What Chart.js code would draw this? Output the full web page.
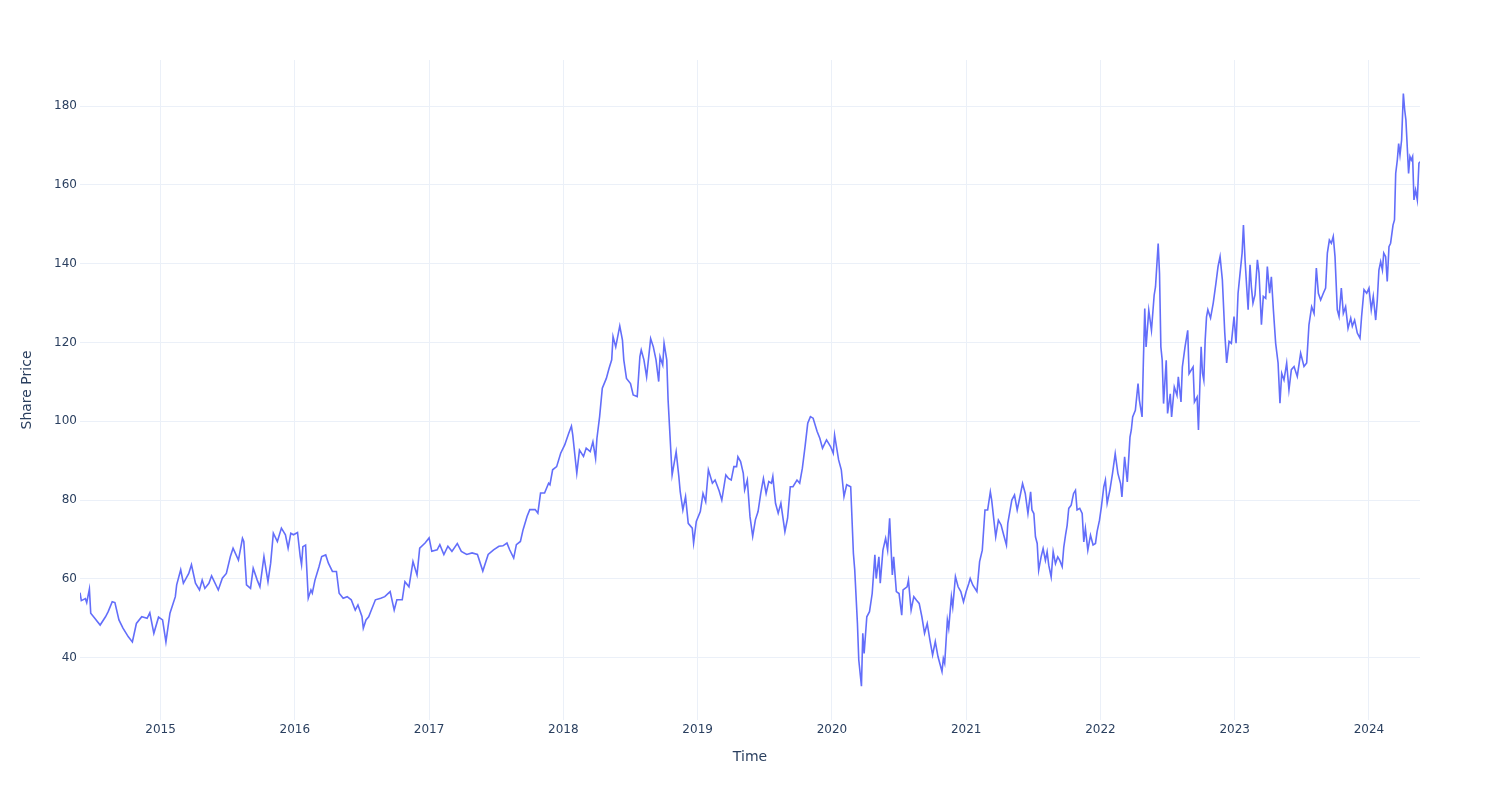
<!DOCTYPE html>
<html>
<head>
<meta charset="utf-8">
<script src="https://cdn.jsdelivr.net/npm/chart.js@4.4.1/dist/chart.umd.min.js"></script>
<style>
  html, body { margin: 0; padding: 0; background: #fff; }
  #wrap { width: 1500px; height: 800px; }
</style>
</head>
<body>
<div id="wrap"><canvas id="chart" width="1500" height="800"></canvas></div>
<script>
// Data (x as decimal year)
const years = [
  2014.40, 2014.41, 2014.44, 2014.45, 2014.47, 2014.48, 2014.51, 2014.55, 2014.59, 2014.61,
  2014.64, 2014.66, 2014.69, 2014.72, 2014.76, 2014.79, 2014.82, 2014.86, 2014.90, 2014.92,
  2014.95, 2014.985, 2015.015, 2015.04, 2015.07, 2015.11, 2015.12, 2015.15, 2015.17, 2015.21,
  2015.23, 2015.26, 2015.29, 2015.31, 2015.33, 2015.36, 2015.38, 2015.43, 2015.46, 2015.49,
  2015.52, 2015.54, 2015.58, 2015.61, 2015.62, 2015.64, 2015.67, 2015.69, 2015.72, 2015.74,
  2015.77, 2015.79, 2015.80, 2015.82, 2015.84, 2015.87, 2015.90, 2015.93, 2015.95, 2015.97,
  2015.99, 2016.02, 2016.04, 2016.05, 2016.06, 2016.08, 2016.10, 2016.12, 2016.13, 2016.15,
  2016.18, 2016.20, 2016.23, 2016.25, 2016.28, 2016.31, 2016.33, 2016.36, 2016.39, 2016.42,
  2016.45, 2016.47, 2016.50, 2016.51, 2016.53, 2016.55, 2016.57, 2016.60, 2016.64, 2016.67,
  2016.71, 2016.74, 2016.76, 2016.80, 2016.82, 2016.85, 2016.88, 2016.91, 2016.93, 2016.97,
  2017.00, 2017.02, 2017.06, 2017.08, 2017.11, 2017.14, 2017.17, 2017.21, 2017.24, 2017.28,
  2017.32, 2017.36, 2017.40, 2017.44, 2017.48, 2017.52, 2017.55, 2017.58, 2017.60, 2017.63,
  2017.65, 2017.68, 2017.70, 2017.73, 2017.75, 2017.79, 2017.81, 2017.83, 2017.86, 2017.89,
  2017.90, 2017.92, 2017.95, 2017.98, 2018.01, 2018.04, 2018.06, 2018.07, 2018.10, 2018.12,
  2018.15, 2018.17, 2018.20, 2018.22, 2018.24, 2018.25, 2018.27, 2018.29, 2018.32, 2018.34,
  2018.36, 2018.37, 2018.39, 2018.42, 2018.44, 2018.45, 2018.47, 2018.50, 2018.52, 2018.55,
  2018.57, 2018.58, 2018.60, 2018.62, 2018.65, 2018.67, 2018.69, 2018.71, 2018.72, 2018.74,
  2018.75, 2018.77, 2018.78, 2018.80, 2018.81, 2018.84, 2018.86, 2018.87, 2018.89, 2018.91,
  2018.93, 2018.96, 2018.97, 2018.99, 2019.02, 2019.04, 2019.06, 2019.08, 2019.11, 2019.13,
  2019.16, 2019.18, 2019.21, 2019.23, 2019.25, 2019.27, 2019.29, 2019.30, 2019.32, 2019.34,
  2019.35, 2019.37, 2019.39, 2019.41, 2019.43, 2019.45, 2019.47, 2019.49, 2019.51, 2019.53,
  2019.55, 2019.56, 2019.58, 2019.60, 2019.62, 2019.65, 2019.67, 2019.69, 2019.71, 2019.74,
  2019.76, 2019.78, 2019.80, 2019.82, 2019.84, 2019.86, 2019.89, 2019.91, 2019.93, 2019.96,
  2019.99, 2020.01, 2020.02, 2020.05, 2020.07, 2020.09, 2020.11, 2020.14, 2020.16, 2020.17,
  2020.19, 2020.20, 2020.22, 2020.23, 2020.24, 2020.26, 2020.28, 2020.30, 2020.32, 2020.33,
  2020.35, 2020.36, 2020.38, 2020.40, 2020.415, 2020.43, 2020.45, 2020.46, 2020.48, 2020.50,
  2020.52, 2020.53, 2020.56, 2020.57, 2020.59, 2020.61, 2020.63, 2020.65, 2020.67, 2020.69,
  2020.71, 2020.73, 2020.75, 2020.77, 2020.79, 2020.82, 2020.83, 2020.84, 2020.86, 2020.87,
  2020.89, 2020.90, 2020.92, 2020.94, 2020.96, 2020.98, 2021.00, 2021.02, 2021.03, 2021.05,
  2021.08, 2021.10, 2021.12, 2021.14, 2021.16, 2021.18, 2021.19, 2021.22, 2021.24, 2021.26,
  2021.28, 2021.30, 2021.31, 2021.34, 2021.36, 2021.38, 2021.40, 2021.42, 2021.44, 2021.46,
  2021.48, 2021.49, 2021.504, 2021.516, 2021.529, 2021.54, 2021.558, 2021.573, 2021.59, 2021.603,
  2021.615, 2021.633, 2021.648, 2021.665, 2021.682, 2021.697, 2021.715, 2021.727, 2021.74, 2021.752,
  2021.764, 2021.782, 2021.80, 2021.814, 2021.826, 2021.846, 2021.864, 2021.876, 2021.888, 2021.906,
  2021.926, 2021.945, 2021.963, 2021.975, 2021.993, 2022.007, 2022.025, 2022.037, 2022.05, 2022.07,
  2022.09, 2022.11, 2022.13, 2022.15, 2022.16, 2022.18, 2022.20, 2022.22, 2022.23, 2022.24,
  2022.26, 2022.28, 2022.29, 2022.31, 2022.32, 2022.33, 2022.34, 2022.36, 2022.38, 2022.40,
  2022.41, 2022.43, 2022.44, 2022.45, 2022.46, 2022.47, 2022.49, 2022.50, 2022.52, 2022.53,
  2022.55, 2022.57, 2022.58, 2022.60, 2022.61, 2022.63, 2022.65, 2022.66, 2022.69, 2022.70,
  2022.72, 2022.73, 2022.74, 2022.75, 2022.76, 2022.77, 2022.78, 2022.79, 2022.80, 2022.82,
  2022.84, 2022.86, 2022.876, 2022.891, 2022.908, 2022.926, 2022.94, 2022.958, 2022.975, 2022.995,
  2023.01, 2023.025, 2023.04, 2023.055, 2023.065, 2023.077, 2023.089, 2023.10, 2023.114, 2023.124,
  2023.136, 2023.151, 2023.169, 2023.181, 2023.199, 2023.213, 2023.231, 2023.243, 2023.26, 2023.273,
  2023.288, 2023.305, 2023.323, 2023.337, 2023.35, 2023.367, 2023.387, 2023.404, 2023.422, 2023.442,
  2023.466, 2023.491, 2023.516, 2023.536, 2023.553, 2023.573, 2023.591, 2023.608, 2023.623, 2023.64,
  2023.66, 2023.677, 2023.69, 2023.705, 2023.72, 2023.734, 2023.747, 2023.764, 2023.777, 2023.794,
  2023.809, 2023.826, 2023.844, 2023.864, 2023.876, 2023.893, 2023.913, 2023.933, 2023.945, 2023.963,
  2023.983, 2024.00, 2024.017, 2024.032, 2024.05, 2024.062, 2024.074, 2024.087, 2024.10, 2024.11,
  2024.124, 2024.136, 2024.149, 2024.161, 2024.179, 2024.19, 2024.199, 2024.211, 2024.221, 2024.231,
  2024.243, 2024.256, 2024.266, 2024.275, 2024.285, 2024.295, 2024.305, 2024.315, 2024.325, 2024.335,
  2024.347, 2024.36, 2024.372, 2024.38
];
const prices = [
  56.5, 54.5, 55, 54, 57.4, 51.3, 50, 48.3, 50.4, 51.7,
  54.2, 54, 49.6, 47.5, 45.3, 44, 48.7, 50.4, 50, 51.4,
  46.2, 50.3, 49.6, 44, 51.3, 55.5, 58.5, 62.3, 58.9, 61.4,
  63.6, 58.9, 57.2, 59.7, 57.6, 58.9, 60.8, 57.2, 60.2, 61.4,
  65.7, 67.8, 64.8, 70.3, 69.5, 58.5, 57.6, 62.7, 59.7, 58,
  65.7, 61.4, 59.3, 64, 71.6, 69.5, 72.9, 71.2, 67.8, 71.6,
  71.2, 71.8, 65.7, 63.6, 68.2, 68.6, 55.1, 57.2, 56.4, 59.7,
  63.1, 65.7, 66.1, 64, 61.9, 61.9, 56.4, 55.1, 55.5, 54.7,
  52.1, 53.4, 50.5, 47.5, 49.6, 50.4, 52.1, 54.7, 55.1, 55.5,
  56.8, 52.1, 54.7, 54.7, 59.3, 58, 64.4, 61, 67.8, 69.1,
  70.4, 67, 67.4, 68.7, 66.2, 68.3, 67, 69, 67, 66.2,
  66.6, 66.2, 62, 66.2, 67.4, 68.3, 68.4, 69.1, 67.4, 65.3,
  68.7, 69.5, 72.5, 75.9, 77.6, 77.6, 76.7, 81.8, 81.8, 84.3,
  83.9, 87.7, 88.5, 91.9, 94, 97, 98.8, 96.5, 86.8, 92.7,
  91.1, 93.2, 92.3, 94.8, 90.6, 95.7, 101.2, 108.4, 110.9, 113.4,
  115.6, 121.5, 118.9, 124.2, 120.6, 115.6, 110.9, 109.6, 106.7, 106.3,
  116.4, 118.1, 115.6, 111.3, 121, 118.9, 115.6, 110.1, 116.4, 114.3,
  119.8, 115.6, 105.4, 92.7, 86.4, 92.3, 86, 82.2, 77.5, 80.9,
  74.1, 72.9, 69.1, 74.6, 77.1, 81.7, 79.6, 87.7, 84.3, 85.1,
  82.4, 80, 86.4, 85.5, 85.1, 88.5, 88.5, 91, 89.8, 86.8,
  82.6, 85.1, 75.8, 70.8, 75, 77.1, 81.7, 85.5, 81.7, 84.7,
  84.3, 86, 79.2, 76.7, 79.2, 72, 75.4, 83.4, 83.4, 85.1,
  84.3, 88.1, 93.6, 99.5, 101.2, 100.8, 97.4, 95.7, 93.2, 95.3,
  93.6, 91.9, 96.5, 90.2, 87.7, 80.9, 83.9, 83.4, 66.5, 62.3,
  48.8, 39.5, 32.8, 46.2, 41.1, 50.4, 51.7, 56.3, 66.1, 60.1,
  65.6, 58.9, 67.3, 70.3, 67.3, 75.4, 61, 65.6, 56.8, 56.3,
  50.8, 57.2, 58, 59.7, 52.1, 55.5, 54.6, 53.8, 50.4, 46.2,
  48.7, 44.5, 40.7, 44.1, 40.3, 36.5, 39.8, 38.6, 49.6, 47.5,
  55.5, 52.9, 60.6, 58, 56.8, 54.2, 56.8, 58.9, 60.1, 58.4,
  56.8, 64.4, 67.3, 77.5, 77.5, 82.1, 80, 70.7, 74.9, 73.7,
  71.1, 68.6, 74.1, 80, 81.3, 77.5, 80.8, 84.2, 81.7, 76.6,
  82.1, 77.5, 76.6, 70.7, 69, 62.2, 65.6, 67.7, 64.7, 66.9,
  63.5, 60.5, 66.9, 63.9, 65.6, 64.7, 63.1, 68.1, 71.1, 73.6,
  77.9, 78.7, 81.7, 82.5, 77.5, 77.9, 76.6, 69.4, 72.8, 67.3,
  71.1, 68.6, 69, 72, 74.9, 78.3, 83.4, 85.1, 79.2, 82.5,
  86.8, 91.8, 86.8, 84.2, 80.8, 91, 84.6, 96, 97.8, 101.1,
  102.8, 109.6, 105.4, 101.1, 115.5, 128.6, 118.9, 128.2, 123.1, 132,
  134.1, 145.1, 137.5, 118.9, 115.5, 104.5, 115.5, 102, 107, 101.1,
  108.7, 106.6, 111.3, 104.9, 113.8, 118.9, 123.1, 112.1, 113.8, 104.9,
  106.2, 97.8, 108.7, 118.9, 112.2, 110.4, 120.6, 126.5, 128.3, 126.2,
  130, 135, 139.3, 141.8, 135.9, 122.4, 114.8, 120.3, 119.8, 126.6,
  119.8, 132.5, 137.6, 142.7, 149.8, 141, 134.2, 128.3, 139.7, 134.2,
  130, 132.1, 141, 137.6, 124.5, 131.7, 131.2, 139.3, 132.5, 136.7,
  128.3, 119.8, 114.8, 104.6, 112.2, 110.5, 114.8, 108, 113.1, 113.9,
  111.4, 117.3, 113.9, 114.8, 124.5, 129.1, 127.4, 138.9, 132.5, 130.8,
  132.5, 133.8, 142.7, 146, 145.2, 146.9, 141.8, 128.3, 126.6, 133.8,
  127.4, 129.1, 123.6, 126.2, 124.1, 125.7, 122.4, 121.1, 126.6, 133.4,
  132.5, 133.8, 128.3, 131.7, 125.7, 130.8, 138.4, 140.5, 138.4, 142.7,
  141.8, 135.5, 144.3, 145.2, 149.8, 151.1, 162.9, 166.3, 170.5, 167.6,
  171.4, 183.2, 179, 176.5, 169.7, 162.9, 167.2, 166.3, 167.2, 156.2,
  158.7, 156.2, 165.5, 165.9
];
const xTicks = [2015, 2016, 2017, 2018, 2019, 2020, 2021, 2022, 2023, 2024];
const yTicks = [40, 60, 80, 100, 120, 140, 160, 180];

const points = years.map((x, i) => ({ x: x, y: prices[i] }));
const textColor = '#2a3f5f';
const gridColor = '#ebf0f8';
const font = 'DejaVu Sans';

new Chart(document.getElementById('chart').getContext('2d'), {
  type: 'line',
  data: {
    datasets: [{
      data: points,
      borderColor: '#636efa',
      borderWidth: 1.6,
      pointRadius: 0,
      tension: 0,
      fill: false
    }]
  },
  options: {
    responsive: false,
    animation: false,
    layout: { padding: { left: 0, top: 60, right: 80, bottom: 0 } },
    plugins: { legend: { display: false }, tooltip: { enabled: false } },
    scales: {
      x: {
        type: 'linear',
        min: years[0],
        max: years[years.length - 1],
        afterBuildTicks: s => { s.ticks = xTicks.map(v => ({ value: v })); },
        afterFit: s => { s.height = 80; },
        grid: { color: gridColor, lineWidth: 1, drawTicks: false },
        border: { display: false },
        ticks: {
          color: textColor, font: { family: font, size: 12 }, padding: 3,
          maxRotation: 0, autoSkip: false,
          callback: v => String(v)
        },
        title: {
          display: true, text: 'Time', color: textColor,
          font: { family: font, size: 14 }, padding: { top: 0, bottom: 34 }
        }
      },
      y: {
        min: 24.2,
        max: 191.7,
        afterBuildTicks: s => { s.ticks = yTicks.map(v => ({ value: v })); },
        afterFit: s => { s.width = 80; },
        grid: { color: gridColor, lineWidth: 1, drawTicks: false },
        border: { display: false },
        ticks: { color: textColor, font: { family: font, size: 12 }, padding: 3 },
        title: {
          display: true, text: 'Share Price', color: textColor,
          font: { family: font, size: 14 }, padding: { top: 19, bottom: 0 }
        }
      }
    }
  }
});
</script>
</body>
</html>
